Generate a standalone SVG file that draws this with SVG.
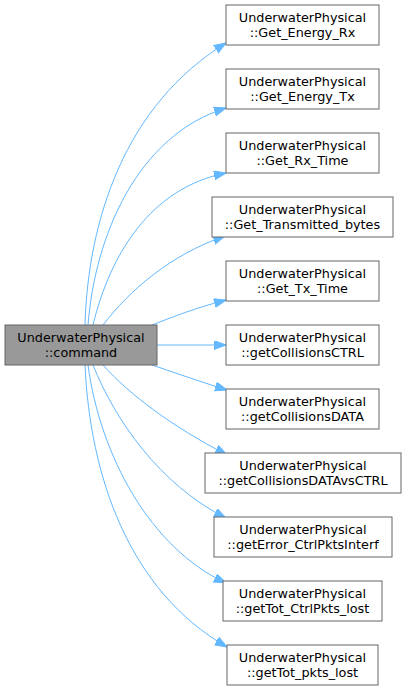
<svg xmlns="http://www.w3.org/2000/svg" width="405" height="691" viewBox="0 0 405 691">
<style>
.n rect{fill:#ffffff;stroke:#666666;stroke-width:1}
#main rect{fill:#999999}
text{font-family:"DejaVu Sans","Liberation Sans",sans-serif;font-size:12.8px;fill:#000000;text-anchor:middle}
.e path{fill:none;stroke:#63b8ff;stroke-width:1;marker-end:url(#ah)}
</style>
<defs>
<marker id="ah" markerUnits="userSpaceOnUse" markerWidth="14" markerHeight="11" refX="12" refY="4.5" orient="auto" viewBox="0 0 14 11">
<polygon points="0,0 12,4.5 0,9" fill="#63b8ff" stroke="#63b8ff" stroke-width="1"/>
</marker>
</defs>
<rect width="405" height="691" fill="#ffffff"/>
<g id="edges" class="e">
<path d="M85,325 C88,220 125,105 226,43"/>
<path d="M88,325 C95,235 138,135 226,108"/>
<path d="M93,325 C110,255 150,188 226,173"/>
<path d="M103,325 C130,290 170,255 225,236"/>
<path d="M152,325 C170,318 195,308 226,300"/>
<path d="M157,345 L226,345"/>
<path d="M152,365 C170,371 195,380 227,390"/>
<path d="M103,365 C130,395 170,425 227,455"/>
<path d="M93,365 C115,420 160,485 226,518"/>
<path d="M88,365 C100,455 150,548 226,583"/>
<path d="M85,365 C90,475 128,590 227,647"/>
</g>
<g id="main" class="n"><rect x="5" y="325" width="152" height="40"/><text x="81" y="342">UnderwaterPhysical</text><text x="81" y="357">::command</text></g>
<g id="n1" class="n"><rect x="226" y="5" width="153" height="40"/><text x="302.5" y="22">UnderwaterPhysical</text><text x="302.5" y="37">::Get_Energy_Rx</text></g>
<g id="n2" class="n"><rect x="226" y="69" width="153" height="40"/><text x="302.5" y="86">UnderwaterPhysical</text><text x="302.5" y="101">::Get_Energy_Tx</text></g>
<g id="n3" class="n"><rect x="226" y="133" width="153" height="40"/><text x="302.5" y="150">UnderwaterPhysical</text><text x="302.5" y="165">::Get_Rx_Time</text></g>
<g id="n4" class="n"><rect x="212" y="197" width="181" height="40"/><text x="302.5" y="214">UnderwaterPhysical</text><text x="302.5" y="229">::Get_Transmitted_bytes</text></g>
<g id="n5" class="n"><rect x="226" y="261" width="153" height="40"/><text x="302.5" y="278">UnderwaterPhysical</text><text x="302.5" y="293">::Get_Tx_Time</text></g>
<g id="n6" class="n"><rect x="226" y="325" width="153" height="40"/><text x="302.5" y="342">UnderwaterPhysical</text><text x="302.5" y="357">::getCollisionsCTRL</text></g>
<g id="n7" class="n"><rect x="226" y="389" width="153" height="40"/><text x="302.5" y="406">UnderwaterPhysical</text><text x="302.5" y="421">::getCollisionsDATA</text></g>
<g id="n8" class="n"><rect x="205" y="453" width="196" height="40"/><text x="303" y="470">UnderwaterPhysical</text><text x="303" y="485">::getCollisionsDATAvsCTRL</text></g>
<g id="n9" class="n"><rect x="214" y="517" width="178" height="40"/><text x="303" y="534">UnderwaterPhysical</text><text x="303" y="549">::getError_CtrlPktsInterf</text></g>
<g id="n10" class="n"><rect x="223" y="581" width="159" height="40"/><text x="302.5" y="598">UnderwaterPhysical</text><text x="302.5" y="613">::getTot_CtrlPkts_lost</text></g>
<g id="n11" class="n"><rect x="227" y="645" width="151" height="40"/><text x="302.5" y="662">UnderwaterPhysical</text><text x="302.5" y="677">::getTot_pkts_lost</text></g>
</svg>
